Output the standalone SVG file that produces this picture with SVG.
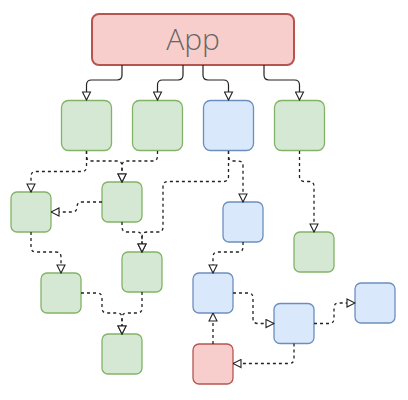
<svg xmlns="http://www.w3.org/2000/svg" width="408" height="400" viewBox="0 0 408 400">
<style>
.g{fill:#d5e8d4;stroke:#82b366;stroke-width:1.3}
.b{fill:#dae8fc;stroke:#6c8ebf;stroke-width:1.3}
.r{fill:#f8cecc;stroke:#b85450;stroke-width:1.3}
.s{fill:none;stroke:#222;stroke-width:1.2;marker-end:url(#arr)}
.d{fill:none;stroke:#222;stroke-width:1.3;stroke-dasharray:3 3;marker-end:url(#arr)}
.t{font-family:"Open Sans","Liberation Sans",sans-serif;font-weight:300;font-size:30px;fill:#666;text-anchor:middle}
</style>
<defs>
<marker id="arr" viewBox="0 0 10 10" refX="9.5" refY="5" markerWidth="10" markerHeight="10" markerUnits="userSpaceOnUse" orient="auto">
<path d="M1.5,1 L9.5,5 L1.5,9 Z" fill="#fff" stroke="#222" stroke-width="1.1"/>
</marker>
</defs>
<g id="app"><rect x="92" y="14" width="202" height="51" rx="7" class="r" style="stroke-width:2"/><text x="193" y="50" class="t">App</text></g>
<g id="n1"><rect x="61.5" y="100.5" width="50" height="50" rx="7" class="g"/></g>
<g id="n2"><rect x="132.5" y="100.5" width="50" height="50" rx="7" class="g"/></g>
<g id="n3"><rect x="203.5" y="100.5" width="50" height="50" rx="7" class="b"/></g>
<g id="n4"><rect x="274.5" y="100.5" width="50" height="50" rx="7" class="g"/></g>
<g id="nA"><rect x="11" y="192" width="40" height="40" rx="6" class="g"/></g>
<g id="nB"><rect x="102" y="182" width="40" height="40" rx="6" class="g"/></g>
<g id="nC"><rect x="223" y="202" width="40" height="40" rx="6" class="b"/></g>
<g id="nD"><rect x="294" y="232" width="40" height="40" rx="6" class="g"/></g>
<g id="nE"><rect x="41" y="273" width="40" height="40" rx="6" class="g"/></g>
<g id="nF"><rect x="122" y="252" width="40" height="40" rx="6" class="g"/></g>
<g id="nG"><rect x="193" y="273" width="40" height="40" rx="6" class="b"/></g>
<g id="nH"><rect x="102" y="334" width="40" height="40" rx="6" class="g"/></g>
<g id="nI"><rect x="274" y="303.5" width="40" height="40" rx="6" class="b"/></g>
<g id="nJ"><rect x="355" y="283" width="40" height="40" rx="6" class="b"/></g>
<g id="nK"><rect x="193" y="344" width="40" height="40" rx="6" class="r"/></g>
<g id="connectors">
<path class="s" d="M122 65 V75 Q122 80 117 80 H91.5 Q86.5 80 86.5 85 V100"/>
<path class="s" d="M183 65 V75 Q183 80 178 80 H162.5 Q157.5 80 157.5 85 V100"/>
<path class="s" d="M203 65 V75 Q203 80 208 80 H223.5 Q228.5 80 228.5 85 V100"/>
<path class="s" d="M264 65 V75 Q264 80 269 80 H294.5 Q299.5 80 299.5 85 V100"/>
<path class="d" d="M86.5 151 V166.5 Q86.5 171.5 81.5 171.5 H36 Q31 171.5 31 176.5 V192"/>
<path class="d" d="M86.5 151 V156 Q86.5 161 91.5 161 H117 Q122 161 122 166 V182"/>
<path class="d" d="M157.5 151 V156 Q157.5 161 152.5 161 H127 Q122 161 122 166 V182"/>
<path class="d" d="M102 202 H82 Q77 202 77 207 Q77 212 72 212 H51"/>
<path class="d" d="M228.5 151 V156 Q228.5 161 233.5 161 H238 Q243 161 243 166 V202"/>
<path class="d" d="M228.5 151 V176.5 Q228.5 181.5 223.5 181.5 H168 Q163 181.5 163 186.5 V227 Q163 232 158 232 H147 Q142 232 142 237 V252"/>
<path class="d" d="M122 222 V227 Q122 232 127 232 H137 Q142 232 142 237 V252"/>
<path class="d" d="M299.5 151 V176.5 Q299.5 181.5 304.5 181.5 H309 Q314 181.5 314 186.5 V232"/>
<path class="d" d="M31 232 V247 Q31 252 36 252 H56 Q61 252 61 257 V273"/>
<path class="d" d="M81 293 H97 Q102 293 102 298 V308 Q102 313 107 313 H117 Q122 313 122 318 V334"/>
<path class="d" d="M142 292 V308 Q142 313 137 313 H127 Q122 313 122 318 V334"/>
<path class="d" d="M243 242 V247 Q243 252 238 252 H218 Q213 252 213 257 V273"/>
<path class="d" d="M233 293 H248 Q253 293 253 298 V318.5 Q253 323.5 258 323.5 H274"/>
<path class="d" d="M314 323.5 H329 Q334 323.5 334 318.5 V308 Q334 303 339 303 H355"/>
<path class="d" d="M294 343.5 V358.5 Q294 363.5 289 363.5 H233"/>
<path class="d" d="M213 344 V313"/>
</g>
</svg>
